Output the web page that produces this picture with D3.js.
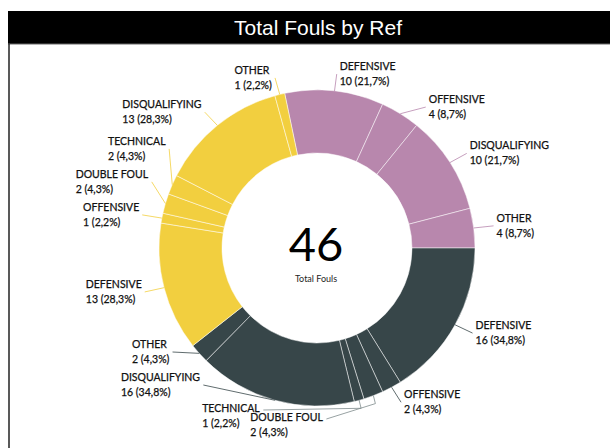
<!DOCTYPE html>
<meta charset="utf-8">
<title>Total Fouls by Ref</title>
<script src="https://d3js.org/d3.v7.min.js"></script>
<style>
  body { margin: 0; background: #fff; }
  text.title { font-family: "Liberation Sans", Arial, sans-serif; font-size: 21px; fill: #fff; text-anchor: middle; }
  text.lbl { font-family: Lato, "Open Sans", sans-serif; font-size: 10.5px; fill: #111; stroke: #111; stroke-width: 0.25px; }
  text.big { font-family: Lato, sans-serif; font-size: 47px; fill: #000; text-anchor: middle; }
  text.small { font-family: Lato, sans-serif; font-size: 9px; fill: #252423; text-anchor: middle; }
</style>
<div id="chart"></div>
<script>
// data, one array per ref
var refColors = ["#b887ad", "#374649", "#f2cf3f"];
var catsA = ["DEFENSIVE", "OFFENSIVE", "DISQUALIFYING", "OTHER"];
var valsA = [10, 4, 10, 4];
var catsB = ["DEFENSIVE", "OFFENSIVE", "DOUBLE FOUL", "TECHNICAL", "DISQUALIFYING", "OTHER"];
var valsB = [16, 2, 2, 1, 16, 2];
var catsC = ["DEFENSIVE", "OFFENSIVE", "DOUBLE FOUL", "TECHNICAL", "DISQUALIFYING", "OTHER"];
var valsC = [13, 1, 2, 2, 13, 1];
var totalFouls = 46;

var W = 610, H = 448;
var cx = 317, cy = 248, R = 158, r0 = 95;

var svg = d3.select("#chart").append("svg")
    .attr("width", W).attr("height", H);

// title bar + frame
svg.append("rect").attr("x", 8).attr("y", 11).attr("width", W - 8).attr("height", 33).attr("fill", "#000");
svg.append("line").attr("x1", 8).attr("x2", W).attr("y1", 44).attr("y2", 44)
    .attr("stroke", "#666").attr("stroke-width", 1);
svg.append("line").attr("x1", 9).attr("x2", 9).attr("y1", 44).attr("y2", H)
    .attr("stroke", "#222").attr("stroke-width", 1.5);
svg.append("text").attr("class", "title").attr("x", 318).attr("y", 35).text("Total Fouls by Ref");

var rows = [];
[[catsA, valsA], [catsB, valsB], [catsC, valsC]].forEach(function(g, gi) {
  g[0].forEach(function(c, i) {
    rows.push({ref: gi, cat: c, val: g[1][i]});
  });
});

var sum = d3.sum(rows, function(d) { return d.val; });
var a0 = Math.PI / 2 - 2 * Math.PI * d3.sum(valsA) / sum;

var pie = d3.pie().sort(null).value(function(d) { return d.val; })
    .startAngle(a0).endAngle(a0 + 2 * Math.PI);
var arcs = pie(rows);
var arc = d3.arc().innerRadius(r0).outerRadius(R);

var g = svg.append("g").attr("transform", "translate(" + cx + "," + cy + ")");
g.selectAll("path.slice").data(arcs).enter().append("path")
    .attr("class", "slice")
    .attr("d", arc)
    .attr("fill", function(d) { return refColors[d.data.ref]; })
    .attr("stroke", "#fff").attr("stroke-opacity", 0.7).attr("stroke-width", 0.7);

// centre
svg.append("text").attr("class", "big").attr("x", 316).attr("y", 261).text(totalFouls);
svg.append("text").attr("class", "small").attr("x", 316).attr("y", 282).text("Total Fouls");

// label layout
var pct = function(v) { return (v / totalFouls * 100).toFixed(1).replace(".", ",") + "%"; };
var gap = 33, rNat = 175, rEnd = 178;
arcs.forEach(function(d) {
  var a = (d.startAngle + d.endAngle) / 2;
  d.mid = a;
  d.side = Math.sin(a) >= 0 ? 1 : -1;
  d.ox = cx + R * Math.sin(a);
  d.oy = cy - R * Math.cos(a);
  d.ny = cy - rNat * Math.cos(a);
  d.y = d.ny;
});

var right = arcs.filter(function(d) { return d.side > 0; }).sort(function(a, b) { return a.ny - b.ny; });
var left = arcs.filter(function(d) { return d.side < 0; }).sort(function(a, b) { return a.ny - b.ny; });

// right side: push down, anything past the bottom goes under the ring
var maxRight = 412, overflow = [];
right.forEach(function(d, i) {
  if (i > 0) d.y = Math.max(d.y, right[i - 1].y + gap);
  if (d.y > maxRight) overflow.push(d);
});
// left side: clamp then push up
var maxLeft = 385;
for (var i = left.length - 1; i >= 0; i--) {
  var lim = i === left.length - 1 ? maxLeft : left[i + 1].y - gap;
  left[i].y = Math.min(left[i].y, lim);
}

var labels = svg.append("g");
function addLabel(d) {
  var t = labels.append("text").attr("class", "lbl");
  t.append("tspan").attr("x", 0).attr("dy", 0).text(d.data.cat);
  t.append("tspan").attr("x", 0).attr("dy", 15).text(d.data.val + " (" + pct(d.data.val) + ")");
  d.w = t.node().getBBox().width;
  d.node = t;
}
arcs.forEach(addLabel);

var line = d3.line();
arcs.forEach(function(d) {
  if (overflow.indexOf(d) >= 0) return;
  var moved = Math.abs(d.y - d.ny) > 1;
  var dy = d.y - cy;
  var ex = moved ? cx + d.side * Math.sqrt(Math.max(0, rEnd * rEnd - dy * dy))
                 : cx + rEnd * Math.sin(d.mid);
  var tx = d.side > 0 ? ex + 3 : ex - 3 - d.w;
  d.node.attr("transform", "translate(" + tx + "," + (d.y - 4) + ")");
  labels.append("path")
      .attr("d", line([[d.ox, d.oy], [ex, d.y]]))
      .attr("fill", "none").attr("stroke", refColors[d.data.ref]).attr("stroke-width", 0.8);
});

// labels that did not fit on the right sit under the ring, stepping left
var prevLeft = null, prevY = null;
overflow.forEach(function(d, k) {
  var rEdge = k === 0 ? d.ox - 50 : prevLeft + 10;
  var y = k === 0 ? cy + R + 19 : prevY - 9;
  var tx = rEdge - d.w;
  d.node.attr("transform", "translate(" + tx + "," + (y - 4) + ")");
  labels.append("path")
      .attr("d", line([[d.ox, d.oy], [d.ox + 2, d.oy + 8], [rEdge + 3, y - 6]]))
      .attr("fill", "none").attr("stroke", "#7d8a8c").attr("stroke-width", 0.8);
  prevLeft = tx; prevY = y;
});
</script>
